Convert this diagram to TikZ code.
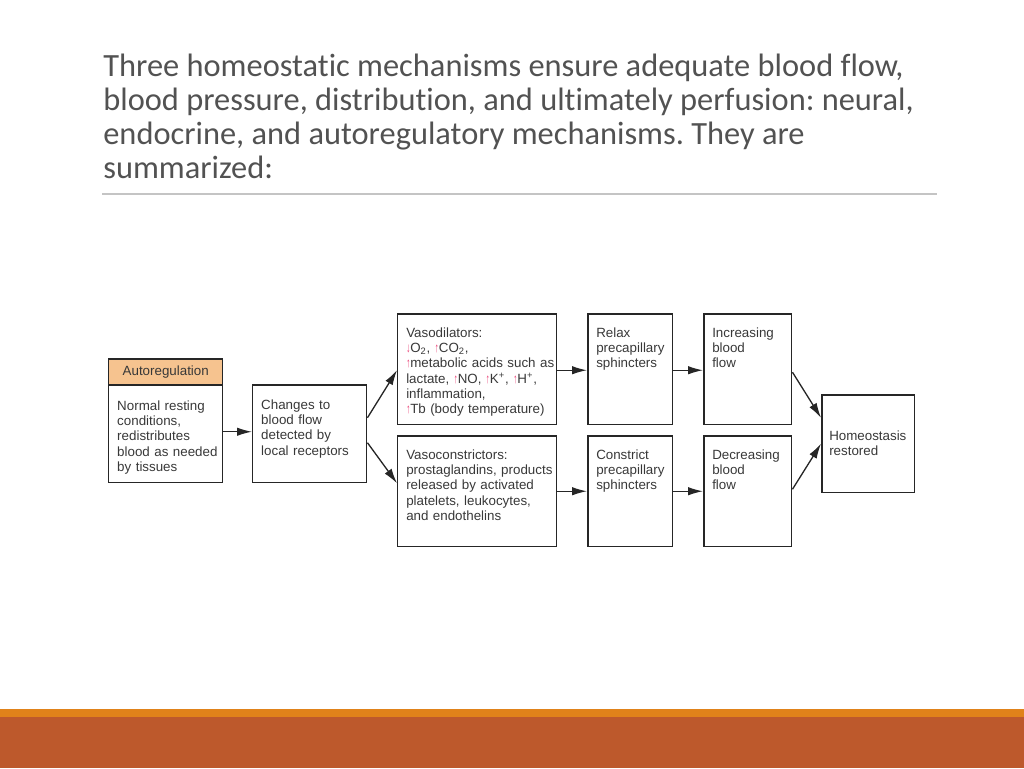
\documentclass[tikz,border=0pt]{standalone}
\usepackage{fontspec}
\usepackage{xcolor}
\usepackage{graphicx}
\usepackage{tikz}
\usetikzlibrary{arrows.meta,calc}
\newfontfamily\titlefont[Ligatures=NoCommon]{Carlito}
\newfontfamily\boxfont{Liberation Sans}
\definecolor{titlegray}{HTML}{525252}
\definecolor{rulegray}{HTML}{C4C4C4}
\definecolor{boxline}{HTML}{262626}
\definecolor{boxtext}{HTML}{383838}
\definecolor{headfill}{HTML}{F6C38F}
\definecolor{arrowred}{HTML}{E8306A}
\definecolor{bandorange}{HTML}{E0821A}
\definecolor{bandrust}{HTML}{BD592C}
\newcommand{\upmark}{\textcolor{arrowred}{\scalebox{0.6}[1]{↑}}}
\newcommand{\downmark}{\textcolor{arrowred}{\scalebox{0.6}[1]{↓}}}
\frenchspacing
\tikzset{
box/.style = {rectangle, draw=boxline, line width=0.85pt, anchor=north west,
  inner sep=0pt, text=boxtext, font={\boxfont\fontsize{7.6}{8.6}\selectfont},
  execute at begin node={\raggedright\leftskip=0.17cm\relax}},
flow/.style = {-{Latex[length=8.5pt,width=4.8pt]}, line width=0.75pt, draw=boxline},
}

\begin{document}
\begin{tikzpicture}[x=0.02cm, y=-0.02cm]
    \useasboundingbox (0,0) rectangle (1024,768);

    % title and rule
    \node[anchor=base west, inner sep=0pt, align=left, text=titlegray,
      font={\titlefont\fontsize{18.45}{19.3}\selectfont}] (title) at (103,178)
      {Three homeostatic mechanisms ensure adequate blood flow,\\
       blood pressure, distribution, and ultimately perfusion: neural,\\
       endocrine, and autoregulatory mechanisms. They are\\
       summarized:};
    \draw[rulegray, line width=0.6pt] (102,194) -- (937,194);

    % boxes
    \node[box, fill=headfill, minimum width=2.28cm, minimum height=0.52cm, align=center,
      execute at begin node={}] (autoh) at (108,358) {Autoregulation};
    \node[box, text width=2.28cm, text height=0.52cm, text depth=1.44cm] (autob) at (108,384)
      {Normal resting\\conditions,\\redistributes\\blood as needed\\by tissues};
    \node[box, text width=2.28cm, text height=0.5cm, text depth=1.46cm] (chg) at (252,384)
      {Changes to\\blood flow\\detected by\\local receptors};
    \node[box, text width=3.18cm, text height=0.48cm, text depth=1.74cm] (vdil) at (397,313)
      {Vasodilators:\\
       \downmark O\textsubscript{2}, \upmark CO\textsubscript{2},\\
       \upmark metabolic acids such as\\
       lactate, \upmark NO, \upmark K\textsuperscript{+}, \upmark H\textsuperscript{+},\\
       inflammation,\\
       \upmark Tb (body temperature)};
    \node[box, text width=3.18cm, text height=0.48cm, text depth=1.74cm] (vcon) at (397,435)
      {Vasoconstrictors:\\prostaglandins, products\\released by activated\\platelets, leukocytes,\\and endothelins};
    \node[box, text width=1.7cm, text height=0.48cm, text depth=1.74cm] (relax) at (587,313)
      {Relax\\precapillary\\sphincters};
    \node[box, text width=1.7cm, text height=0.48cm, text depth=1.74cm] (constr) at (587,435)
      {Constrict\\precapillary\\sphincters};
    \node[box, text width=1.76cm, text height=0.48cm, text depth=1.74cm] (incr) at (703,313)
      {Increasing\\blood\\flow};
    \node[box, text width=1.76cm, text height=0.48cm, text depth=1.74cm] (decr) at (703,435)
      {Decreasing\\blood\\flow};
    \node[box, text width=1.86cm, text height=0.92cm, text depth=1.04cm,
      execute at begin node={\raggedright\leftskip=0.15cm\relax}] (homeo) at (821,394)
      {Homeostasis\\restored};

    % arrows
    \draw[flow] ($(autob.east)+(0,-2)$) -- ($(chg.west)+(0,-2)$);
    \draw[flow] ($(chg.east)+(0,-16)$) -- ($(vdil.west)+(0,1)$);
    \draw[flow] ($(chg.east)+(0,9)$) -- ($(vcon.west)+(0,-8)$);
    \draw[flow] ($(vdil.east)+(0,1)$) -- ($(relax.west)+(0,1)$);
    \draw[flow] (vcon.east) -- (constr.west);
    \draw[flow] ($(relax.east)+(0,1)$) -- ($(incr.west)+(0,1)$);
    \draw[flow] (constr.east) -- (decr.west);
    \draw[flow] ($(incr.east)+(0,3)$) -- ($(homeo.west)+(0,-26)$);
    \draw[flow] ($(decr.east)+(0,-2)$) -- (homeo.west);

    % bottom bands
    \fill[bandorange] (0,709) rectangle (1024,717);
    \fill[bandrust] (0,717) rectangle (1024,768);
\end{tikzpicture}
\end{document}
